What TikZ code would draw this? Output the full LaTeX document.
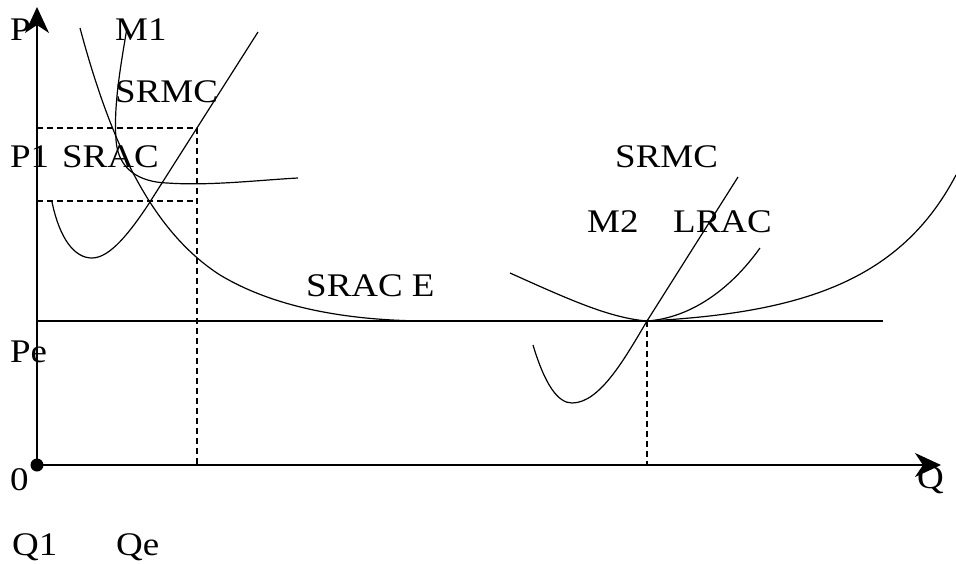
\documentclass[tikz,border=0pt]{standalone}
\usepackage{fontspec}
\setmainfont{Liberation Serif}[FakeStretch=1.12]
\usetikzlibrary{arrows.meta}
\begin{document}
\begin{tikzpicture}[x=1pt,y=-1pt,
  lbl/.style={anchor=base west,inner sep=0pt,font=\fontsize{33}{38}\selectfont},
  axis/.style={line width=1.6pt,-{Stealth[length=26pt,width=24pt,inset=8pt]}},
  curve/.style={line width=1.2pt},
  guide/.style={line width=1.2pt,dash pattern=on 6pt off 4pt}]
\useasboundingbox (0,0) rectangle (956,563);
% coordinates
\coordinate (O) at (37,465);
\coordinate (Ytip) at (37,7);
\coordinate (Xtip) at (941,465);
\coordinate (PeL) at (37,321);
\coordinate (PeR) at (883,321);
\coordinate (P1L) at (37,128);
\coordinate (P1R) at (197,128);
\coordinate (PmL) at (37,201);
\coordinate (PmR) at (197,201);
\coordinate (QeB) at (197,465);
\coordinate (Q2T) at (647,321);
\coordinate (Q2B) at (647,465);
% axes
\draw[axis] (O) -- (Ytip);
\draw[axis] (O) -- (Xtip);
\fill (O) circle (6.5pt);
% Pe line
\draw[line width=1.2pt] (PeL) -- (PeR);
% dashed guides
\draw[guide] (P1L) -- (P1R) -- (QeB);
\draw[guide] (PmL) -- (PmR);
\draw[guide] (Q2T) -- (Q2B);
% long-run curve (SRAC E / LRAC)
\draw[curve] (80,28) .. controls (110,140) and (150,230) .. (220,275)
  .. controls (270,305) and (340,321) .. (430,321) -- (Q2T)
  .. controls (800,313) and (900,282) .. (956,175);
% M1 SRAC
\draw[curve] (127,28) .. controls (118,80) and (114,110) .. (116,140)
  .. controls (118,170) and (140,182) .. (167,183)
  .. controls (210,186) and (260,180) .. (298,178);
% M1 SRMC
\draw[curve] (52,202) .. controls (60,240) and (75,258) .. (92,258)
  .. controls (110,258) and (130,232) .. (148,205) -- (258,32);
% M2 SRMC
\draw[curve] (533,345) .. controls (545,385) and (558,403) .. (572,403)
  .. controls (600,403) and (625,358) .. (Q2T) -- (738,177);
% M2 SRAC
\draw[curve] (510,273) .. controls (570,300) and (610,318) .. (Q2T)
  .. controls (690,318) and (730,290) .. (760,248);
% labels
\node[lbl] (lP) at (10,40) {P};
\node[lbl] (lM1) at (115,40) {M1};
\node[lbl] (lSRMC1) at (115,102) {SRMC};
\node[lbl] (lP1) at (10,167) {P1};
\node[lbl] (lSRAC1) at (62,167) {SRAC};
\node[lbl] (lSRMC2) at (615,167) {SRMC};
\node[lbl] (lM2) at (587,232) {M2};
\node[lbl] (lLRAC) at (673,232) {LRAC};
\node[lbl] (lSRACE) at (306,296) {SRAC E};
\node[lbl] (lPe) at (10,362) {Pe};
\node[lbl] (l0) at (10,490) {0};
\node[lbl] (lQ) at (917,488) {Q};
\node[lbl] (lQ1) at (12,555) {Q1};
\node[lbl] (lQe) at (116,555) {Qe};
\end{tikzpicture}
\end{document}
